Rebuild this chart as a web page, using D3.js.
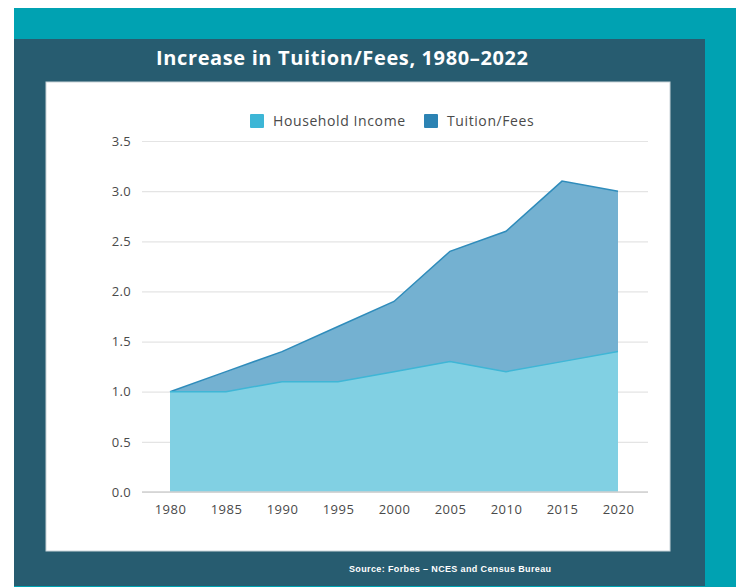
<!DOCTYPE html>
<html>
<head>
<meta charset="utf-8">
<script src="https://cdn.jsdelivr.net/npm/d3@7"></script>
<style>
  body { margin: 0; background: #fff; }
  svg { display: block; }
</style>
</head>
<body>
<div id="chart"></div>
<script>
// values
const years = [1980, 1985, 1990, 1995, 2000, 2005, 2010, 2015, 2020];
const householdIncome = [1.0, 1.0, 1.1, 1.1, 1.2, 1.3, 1.2, 1.3, 1.4];
const tuitionFees = [1.0, 1.2, 1.4, 1.65, 1.9, 2.4, 2.6, 3.1, 3.0];
const yTicks = [0, 0.5, 1, 1.5, 2, 2.5, 3, 3.5];
const seriesNames = ["Household Income", "Tuition/Fees"];

const W = 736, H = 587;
const font = "'Open Sans', 'DejaVu Sans', sans-serif";

const svg = d3.select("#chart").append("svg")
  .attr("width", W)
  .attr("height", H);

// backgrounds
svg.append("rect").attr("x", 14).attr("y", 8).attr("width", W - 14).attr("height", H - 8).attr("fill", "#00a2b2");
svg.append("rect").attr("x", 14).attr("y", 39).attr("width", 691).attr("height", 547).attr("fill", "#275c70");
svg.append("rect").attr("x", 46).attr("y", 82).attr("width", 624).attr("height", 469)
  .attr("fill", "#fff").attr("stroke", "#c9d3d8").attr("stroke-width", 1);

svg.append("text")
  .attr("x", 342).attr("y", 65)
  .attr("text-anchor", "middle")
  .attr("fill", "#fff")
  .attr("textLength", 372)
  .style("font-family", font)
  .style("font-weight", 700)
  .style("font-size", "20px")
  .text("Increase in Tuition/Fees, 1980\u20132022");

svg.append("text")
  .attr("x", 450).attr("y", 572)
  .attr("text-anchor", "middle")
  .attr("fill", "#fff")
  .attr("textLength", 202)
  .style("font-family", "'Liberation Sans Narrow', 'Liberation Sans', sans-serif")
  .style("font-weight", 700)
  .style("font-size", "9px")
  .text("Source:  Forbes \u2013 NCES and Census Bureau");

// scales
const x = d3.scaleLinear().domain([1980, 2020]).range([170, 618]);
const y = d3.scaleLinear().domain([0, 3.5]).range([492, 141]);

const g = svg.append("g");

// grid + y labels
const yAxis = g.append("g")
  .attr("transform", "translate(142,0)")
  .call(d3.axisLeft(y).tickValues(yTicks).tickSize(-506).tickFormat(d3.format(".1f")));
yAxis.select(".domain").remove();
yAxis.selectAll(".tick line").attr("stroke", "#e4e4e4").attr("stroke-width", 1.2);
yAxis.selectAll(".tick text")
  .attr("x", -11)
  .attr("fill", "#4a4a4a")
  .style("font-family", font)
  .style("font-size", "13px")
  .style("letter-spacing", "0.3px");

const data = years.map((yr, i) => ({ year: yr, hh: householdIncome[i], tf: tuitionFees[i] }));

const tuitionArea = d3.area().x(d => x(d.year)).y0(y(0)).y1(d => y(d.tf));
const incomeArea = d3.area().x(d => x(d.year)).y0(y(0)).y1(d => y(d.hh));
const tuitionLine = d3.line().x(d => x(d.year)).y(d => y(d.tf));
const incomeLine = d3.line().x(d => x(d.year)).y(d => y(d.hh));

g.append("path").datum(data).attr("d", tuitionArea).attr("fill", "#74b1d1");
g.append("path").datum(data).attr("d", tuitionLine).attr("fill", "none").attr("stroke", "#2f8cbb").attr("stroke-width", 1.5);
g.append("path").datum(data).attr("d", incomeArea).attr("fill", "#81d0e3");
g.append("path").datum(data).attr("d", incomeLine).attr("fill", "none").attr("stroke", "#3fb6d6").attr("stroke-width", 1.5);

// baseline
g.append("line").attr("x1", 142).attr("x2", 648).attr("y1", y(0)).attr("y2", y(0))
  .attr("stroke", "#d0d0d0").attr("stroke-width", 1.5);

// x axis labels
const xAxis = g.append("g")
  .attr("transform", "translate(0," + y(0) + ")")
  .call(d3.axisBottom(x).tickValues(years).tickSize(0).tickFormat(d3.format("d")));
xAxis.select(".domain").remove();
xAxis.selectAll(".tick text")
  .attr("dy", "1.45em")
  .attr("fill", "#4a4a4a")
  .style("font-family", font)
  .style("font-size", "13px")
  .style("letter-spacing", "0.5px");

// legend
const legendX = [250, 424];
const legendColors = ["#3db6d6", "#2c83b3"];
const legend = g.selectAll(".legend").data(seriesNames).enter().append("g")
  .attr("transform", (d, i) => "translate(" + legendX[i] + ",114)");
legend.append("rect").attr("width", 14).attr("height", 14).attr("rx", 1).attr("fill", (d, i) => legendColors[i]);
legend.append("text")
  .attr("x", 23).attr("y", 12)
  .attr("fill", "#4a4a4a")
  .style("font-family", font)
  .style("font-size", "14px")
  .style("letter-spacing", "0.6px")
  .text(d => d);
</script>
</body>
</html>
